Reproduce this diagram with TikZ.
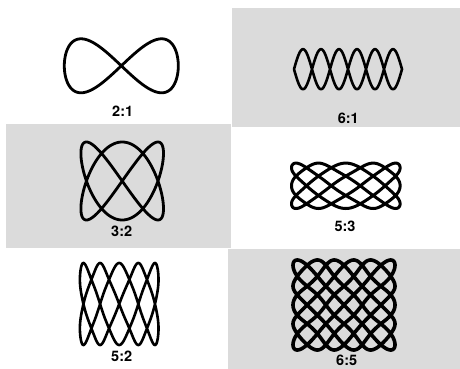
\documentclass[tikz,border=0pt]{standalone}
\usepackage{fontspec}
\setmainfont{TeX Gyre Heros}
\definecolor{panelgray}{RGB}{219,219,219}
\begin{document}
\begin{tikzpicture}[x=1pt,y=-1pt,
  curve/.style={line width=2.8pt, line join=round, line cap=round},
  lbl/.style={font=\bfseries\fontsize{14.5}{14.5}\selectfont, inner sep=0pt},
  panel/.style={fill=panelgray, draw=none},
  declare function={gw(\a,\w)=(1-\w)*sin(\a)+\w*(sin(\a)-sin(3*\a)/9+sin(5*\a)/25)/1.1511;}]
\useasboundingbox (0,0) rectangle (460,369);
\fill[white] (0,0) rectangle (460,369);
% shaded panels
\fill[panel] (232,8) rectangle (460,127);
\fill[panel] (6,124) rectangle (231,248);
\fill[panel] (228,249) rectangle (460,369);
% 2:1
\draw[curve] plot[domain=0:360, samples=241] ({121.3+57*sin(\x)}, {65.8+27*sin(2*\x)}) -- cycle;
\node[lbl] (l21) at (122.7,111.7) {2:1};
% 6:1
\draw[curve, line width=2.6pt] plot[domain=-90:90, samples=241] ({348+54*\x/90}, {69.2+20*sin(6*\x)})
  -- plot[domain=90:-90, samples=241] ({348+54*\x/90}, {69.2-20*sin(6*\x)}) -- cycle;
\node[lbl] (l61) at (348.3,118.3) {6:1};
% 3:2
\draw[curve] plot[domain=0:360, samples=361] ({122.2+41.3*sin(2*\x)}, {181+39*sin(3*\x)}) -- cycle;
\node[lbl] (l32) at (121.7,231.5) {3:2};
% 5:3
\draw[curve, line width=3pt] plot[domain=0:360, samples=721] ({345.8+54.3*gw(3*\x+18,0.5)}, {185.8+22.7*gw(5*\x,0.5)}) -- cycle;
\node[lbl] (l53) at (345,226.7) {5:3};
% 5:2
\draw[curve, line width=2.6pt] plot[domain=0:360, samples=721] ({119.2+39.3*gw(2*\x,0.6)}, {304+41*gw(5*\x,0.6)}) -- cycle;
\node[lbl] (l52) at (121.7,356.7) {5:2};
% 6:5
\draw[curve, line width=3.6pt] plot[domain=0:360, samples=901] ({344+51*gw(5*\x,1)}, {305+45*gw(6*\x,1)}) -- cycle;
\node[lbl] (l65) at (346.7,360) {6:5};
\end{tikzpicture}
\end{document}
